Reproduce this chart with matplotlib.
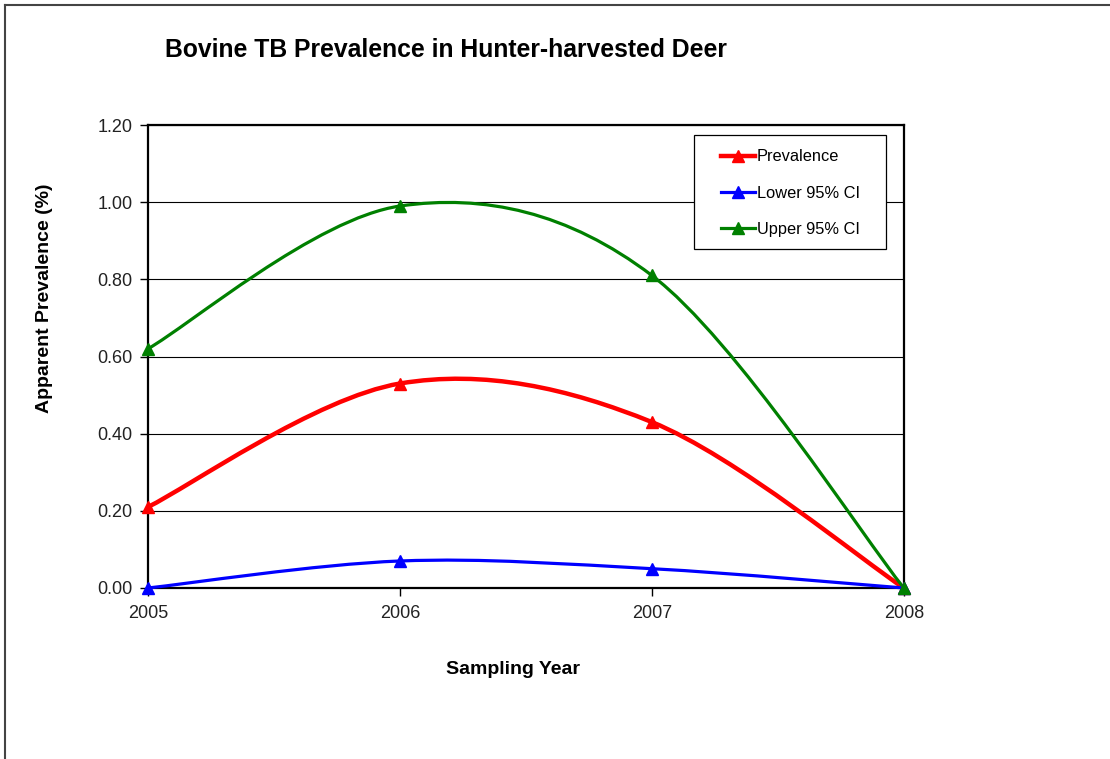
import matplotlib.pyplot as plt
from matplotlib.path import Path
from matplotlib.patches import PathPatch, Rectangle
from matplotlib.lines import Line2D

plt.rcParams['font.family'] = ['Liberation Sans', 'DejaVu Sans']

years = [2005, 2006, 2007, 2008]
prevalence = [0.21, 0.53, 0.43, 0.00]
lower_ci = [0.00, 0.07, 0.05, 0.00]
upper_ci = [0.62, 0.99, 0.81, 0.00]
y_ticks = [0.0, 0.2, 0.4, 0.6, 0.8, 1.0, 1.2]


def smooth_path(xs, ys):
    # Excel-style smoothed line: cubic bezier through each point
    pts = list(zip(xs, ys))
    n = len(pts)
    verts = [pts[0]]
    codes = [Path.MOVETO]
    for i in range(n - 1):
        p0 = pts[max(i - 1, 0)]
        p1 = pts[i]
        p2 = pts[i + 1]
        p3 = pts[min(i + 2, n - 1)]
        c1 = (p1[0] + (p2[0] - p0[0]) / 6, p1[1] + (p2[1] - p0[1]) / 6)
        c2 = (p2[0] - (p3[0] - p1[0]) / 6, p2[1] - (p3[1] - p1[1]) / 6)
        verts += [c1, c2, p2]
        codes += [Path.CURVE4] * 3
    return Path(verts, codes)


fig = plt.figure(figsize=(11.1, 7.59), dpi=100)
ax = fig.add_axes([0.1333, 0.2253, 0.681, 0.61])

series = [
    ('Prevalence', prevalence, '#ff0000', 3.2),
    ('Lower 95% CI', lower_ci, '#0000ff', 2.3),
    ('Upper 95% CI', upper_ci, '#008000', 2.3),
]
handles = []
for name, vals, col, lw in series:
    ax.add_patch(PathPatch(smooth_path(years, vals), fill=False, edgecolor=col,
                           lw=lw, zorder=3, clip_on=False))
    ax.plot(years, vals, linestyle='none', marker='^', color=col, markersize=8,
            zorder=4, clip_on=False)
    handles.append(Line2D([], [], color=col, lw=lw, marker='^', markersize=8))

ax.set_xlim(2005, 2008)
ax.set_ylim(0, 1.2)
ax.set_xticks(years)
ax.set_xticklabels([str(y) for y in years])
ax.set_yticks(y_ticks)
ax.set_yticklabels(['%.2f' % v for v in y_ticks])
ax.yaxis.grid(True, color='black', lw=0.8)
ax.set_axisbelow(True)
for s in ax.spines.values():
    s.set_linewidth(1.6)
    s.set_color('black')
ax.tick_params(axis='both', direction='out', length=6, width=1, labelsize=13,
               labelcolor='#222222')
ax.tick_params(axis='x', pad=6)
ax.tick_params(axis='y', pad=5)

ax.set_xlabel('Sampling Year', fontsize=14, fontweight='bold')
ax.set_ylabel('Apparent Prevalence (%)', fontsize=14, fontweight='bold')
ax.xaxis.set_label_coords(0.483, -0.158)
ax.yaxis.set_label_coords(-0.1255, 0.626)
fig.text(0.149, 0.934, 'Bovine TB Prevalence in Hunter-harvested Deer',
         fontsize=17.8, fontweight='bold', va='center', ha='left')

# legend box drawn separately, entries placed inside
ax.add_patch(Rectangle((0.7222, 0.7322), 0.254, 0.2462, transform=ax.transAxes,
                       facecolor='white', edgecolor='black', lw=0.9, zorder=5))
leg = ax.legend(handles, [s[0] for s in series], loc='upper left',
                bbox_to_anchor=(0.7580, 0.9474), fontsize=11.8, frameon=False,
                labelspacing=1.3, handlelength=2.1, handletextpad=0.1,
                borderpad=0, borderaxespad=0)
leg.set_zorder(6)

# page border lines
fig.add_artist(Line2D([0.0045, 1], [0.9934, 0.9934], color='#444444', lw=1.5))
fig.add_artist(Line2D([0.0045, 0.0045], [0, 0.9934], color='#444444', lw=1.5))

fig.savefig('out.png', dpi=100, facecolor='white')
